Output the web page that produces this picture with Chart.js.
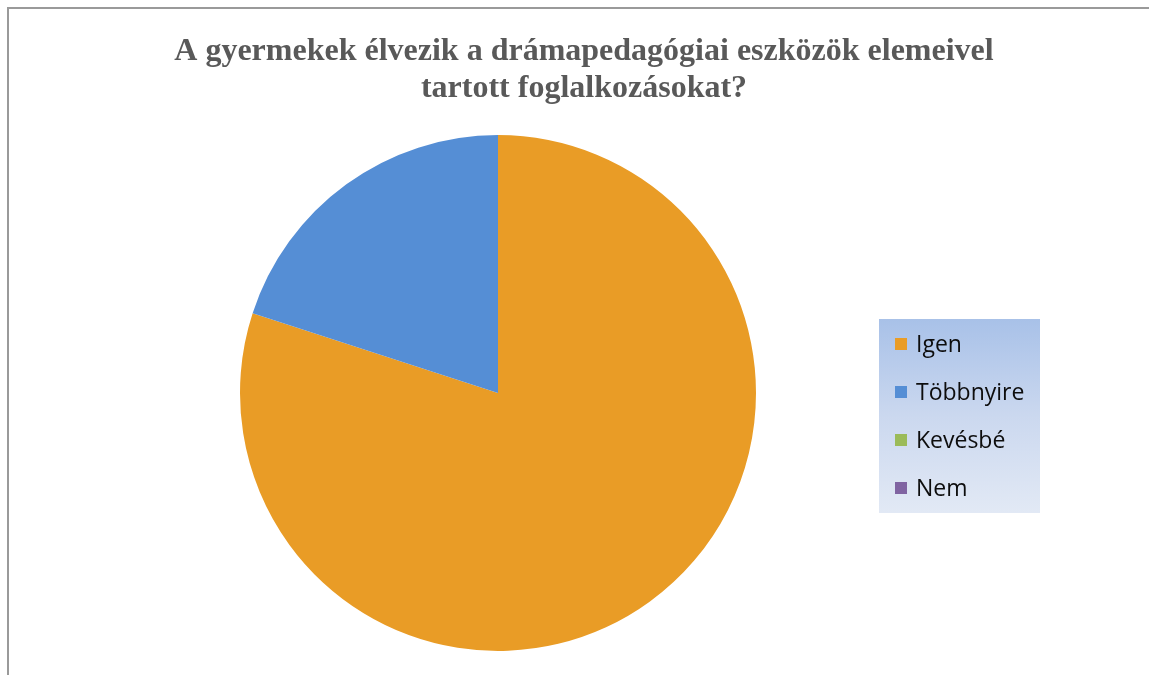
<!DOCTYPE html>
<html>
<head>
<meta charset="utf-8">
<script src="https://cdn.jsdelivr.net/npm/chart.js@4.4.1/dist/chart.umd.min.js"></script>
<style>
  html, body { margin:0; padding:0; background:#fff; overflow:hidden; }
  #frame { position:absolute; left:7px; top:7px; width:1180px; height:720px; border:2px solid #9a9a9a; }
  #frame canvas { display:block; }
</style>
</head>
<body>
<div id="frame"><canvas id="pie" width="1150" height="665"></canvas></div>
<script>
const titleLines = ['A gyermekek élvezik a drámapedagógiai eszközök elemeivel', 'tartott foglalkozásokat?'];
const labels = ['Igen', 'Többnyire', 'Kevésbé', 'Nem'];
const values = [80, 20, 0, 0];
const colors = ['#E99C26', '#558ED5', '#9BBB59', '#8064A2'];

// title drawn by hand: the built-in one gets squeezed into the padded area
const wideTitle = {
  id: 'wideTitle',
  afterDraw(chart) {
    const ctx = chart.ctx;
    ctx.save();
    ctx.font = 'bold 32px "Liberation Serif", "Times New Roman", serif';
    ctx.fillStyle = '#595959';
    ctx.textAlign = 'center';
    ctx.textBaseline = 'alphabetic';
    titleLines.forEach((t, i) => ctx.fillText(t, 575, 51 + i * 37));
    ctx.restore();
  }
};

// legend box drawn by hand so it can sit where the original does
const boxLegend = {
  id: 'boxLegend',
  afterDraw(chart) {
    const ctx = chart.ctx;
    const x = 870, y = 310, w = 161, h = 194;
    const g = ctx.createLinearGradient(0, y, 0, y + h);
    g.addColorStop(0, '#a8c1e8');
    g.addColorStop(0.5, '#cbd8ef');
    g.addColorStop(1, '#e2e9f5');
    ctx.save();
    ctx.fillStyle = g;
    ctx.fillRect(x, y, w, h);
    ctx.font = '23px "Open Sans"';
    ctx.textBaseline = 'middle';
    const bg = chart.data.datasets[0].backgroundColor;
    chart.data.labels.forEach((lab, i) => {
      const cy = y + 25 + i * 48;
      ctx.fillStyle = bg[i];
      ctx.fillRect(x + 16, cy - 6, 12, 12);
      ctx.fillStyle = '#0d0d0d';
      ctx.fillText(lab, x + 37, cy + 1);
    });
    ctx.restore();
  }
};

new Chart(document.getElementById('pie'), {
  type: 'pie',
  data: { labels, datasets: [{ data: values, backgroundColor: colors, borderWidth: 0 }] },
  options: {
    responsive: false,
    animation: false,
    layout: { padding: { left: 231, right: 403, top: 126, bottom: 23 } },
    plugins: {
      legend: { display: false },
      tooltip: { enabled: false },
      title: { display: false }
    }
  },
  plugins: [wideTitle, boxLegend]
});
</script>
</body>
</html>
